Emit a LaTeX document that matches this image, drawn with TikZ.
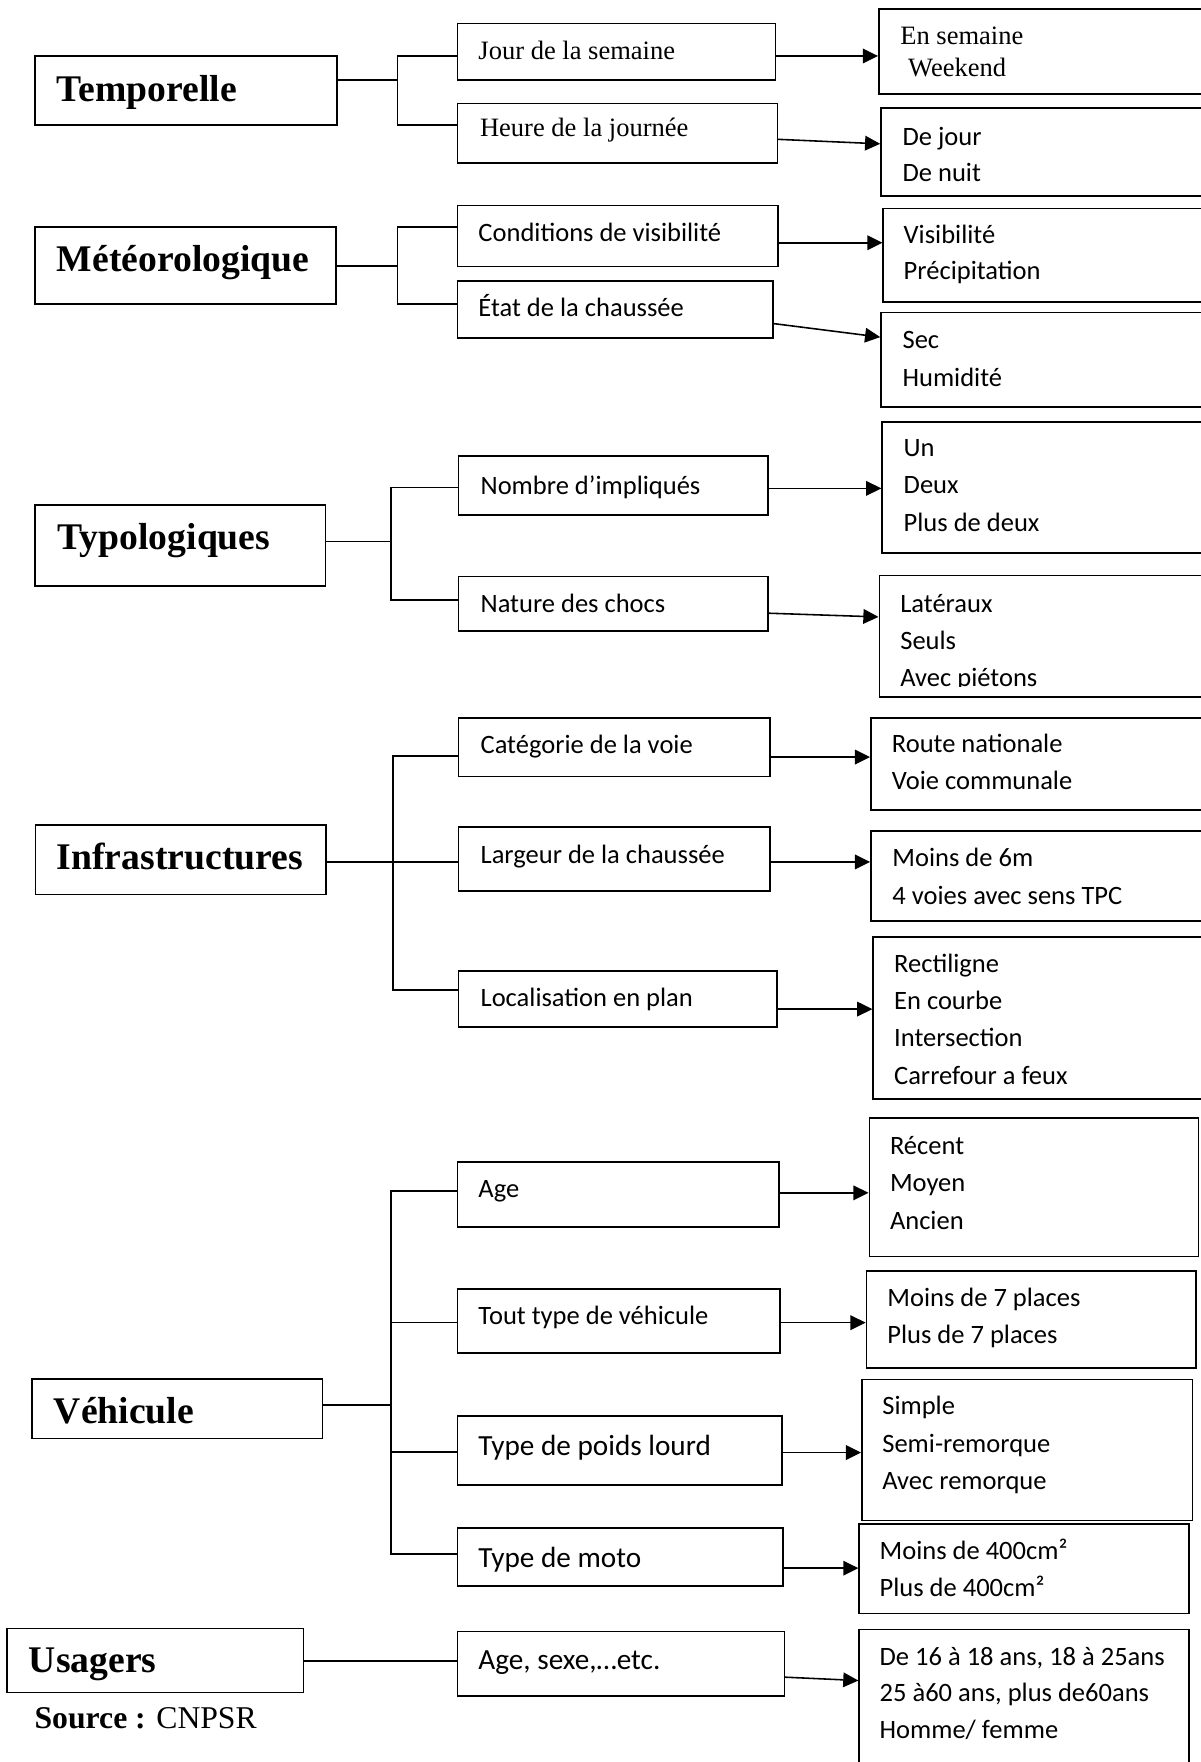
\documentclass[tikz,border=0pt]{standalone}
\usepackage{fontspec}
\setmainfont{Liberation Serif}
\newfontfamily\calfont{Carlito}
\usetikzlibrary{arrows.meta,fit}
\newcommand\catfs{\fontsize{33.5}{36}\selectfont\bfseries}
\newcommand\tmfs{\fontsize{23.6}{28}\selectfont}
\newcommand\cbfs{\calfont\fontsize{23.6}{28}\selectfont}
\newcommand\cbigfs{\calfont\fontsize{26}{30}\selectfont}
\newcommand\srcfs{\fontsize{28.2}{32}\selectfont}
\newcommand\bx[5]{\node[box, fit={(#2,#3) (#4,#5)}] (#1) {};}
\newcommand\arw[4]{\draw[arr] (#1.east |- 0,#2) -- (#3.west |- 0,#4);}
\newcommand\rl[6]{\foreach \itm [count=\i from 0] in {#6} {\node[#5] (#1-\i) at (#2,{#3+#4*\i}) {\itm};}}
\begin{document}
\begin{tikzpicture}[x=1pt,y=-1pt,
  box/.style={draw, line width=1.4pt, inner sep=0pt},
  ln/.style={line width=1.4pt},
  arr/.style={line width=1.4pt, -{Triangle[length=13.5pt,width=13pt]}},
  cat/.style={anchor=base west, inner sep=0pt, font=\catfs},
  tm/.style={anchor=base west, inner sep=0pt, font=\tmfs},
  cb/.style={anchor=base west, inner sep=0pt, font=\cbfs},
  cbig/.style={anchor=base west, inner sep=0pt, font=\cbigfs}]
\useasboundingbox (0,0) rectangle (1068,1568);

% ---------- category boxes ----------
\bx{temp}{31}{50}{300}{111}
\bx{meteo}{31}{202}{299}{270.6}
\bx{typo}{31}{449.6}{289.6}{521.5}
\bx{infra}{31.7}{734}{290}{796}
\bx{vehi}{28.6}{1227}{287}{1280}
\bx{usag}{6.1}{1449}{270}{1506}
\node[cat] (temp-t) at (50.4,90) {Temporelle};
\node[cat] (meteo-t) at (50.4,242) {Météorologique};
\node[cat] (typo-t) at (51,488.6) {Typologiques};
\node[cat] (infra-t) at (50.4,774) {Infrastructures};
\node[cat] (vehi-t) at (47.7,1266.5) {Véhicule};
\node[cat] (usag-t) at (25.5,1488) {Usagers};
\node[anchor=base west, inner sep=0pt, font=\srcfs] (src) at (30.6,1538) {\textbf{Source :} CNPSR};

% ---------- middle boxes ----------
\bx{jour}{407}{20.8}{690}{71}
\bx{heure}{407}{92}{691.7}{145}
\bx{cond}{407}{183}{692.5}{237}
\bx{etat}{407}{250}{688}{300.6}
\bx{nomb}{408}{406}{683.6}{458.4}
\bx{natu}{408}{513}{683.6}{561.6}
\bx{cate}{408}{638.7}{685}{691}
\bx{larg}{408}{736}{685}{793}
\bx{loca}{408}{864}{691.5}{914}
\bx{age}{407}{1034}{693}{1092}
\bx{tout}{407}{1147}{694}{1204}
\bx{poid}{407}{1260}{696}{1321.6}
\bx{moto}{407}{1360}{697}{1411.6}
\bx{asex}{407}{1452}{698}{1509}
\node[tm] (jour-t) at (425.6,52.8) {Jour de la semaine};
\node[tm] (heure-t) at (427,121.6) {Heure de la journée};
\node[cb] (cond-t) at (425.6,215) {Conditions de visibilité};
\node[cb] (etat-t) at (425.6,282) {État de la chaussée};
\node[cb] (nomb-t) at (427.5,439.7) {Nombre d’impliqués};
\node[cb] (natu-t) at (427.5,545.3) {Nature des chocs};
\node[cb] (cate-t) at (427.5,670.5) {Catégorie de la voie};
\node[cb] (larg-t) at (427.5,768) {Largeur de la chaussée};
\node[cb] (loca-t) at (427.5,896) {Localisation en plan};
\node[cb] (age-t) at (425.6,1066) {Age};
\node[cb] (tout-t) at (425.6,1179) {Tout type de véhicule};
\node[cbig] (poid-t) at (425.6,1295) {Type de poids lourd};
\node[cbig] (moto-t) at (425.6,1394.5) {Type de moto};
\node[cbig] (asex-t) at (425.6,1486) {Age, sexe,…etc.};

% ---------- right boxes ----------
\bx{r1}{782}{8}{1080}{83.7}
\bx{r2}{784}{96}{1080}{174.5}
\bx{r3}{786}{185.5}{1080}{268.5}
\bx{r4}{784}{278}{1080}{362}
\bx{r5}{785}{375.5}{1080}{492}
\bx{r6}{782.5}{512}{1080}{620}
\bx{r7}{775}{639}{1080}{721}
\bx{r8}{775}{739.5}{1080}{819.5}
\bx{r9}{777}{834}{1080}{978}
\bx{r10}{773.6}{995}{1066.5}{1118}
\bx{r11}{771}{1131}{1064.5}{1217.5}
\bx{r12}{767}{1227.5}{1061}{1353}
\bx{r13}{764.6}{1356}{1058}{1436}
\bx{r14}{764.6}{1450}{1058}{1585}
\node[tm] (r1-a) at (801,40) {En semaine};
\node[tm] (r1-b) at (808,68) {Weekend};
\rl{r2t}{803}{129.7}{32}{cb}{De jour,De nuit}
\rl{r3t}{804}{216.6}{32.4}{cb}{Visibilité,Précipitation}
\rl{r4t}{803}{310}{33.5}{cb}{Sec,Humidité}
\rl{r5t}{804}{406}{33.5}{cb}{Un,Deux,Plus de deux}
\begin{scope}
\clip (782.5,505) rectangle (1080,611);
\rl{r6t}{801}{545.5}{32.8}{cb}{Latéraux,Seuls,Avec piétons}
\end{scope}
\rl{r7t}{793.5}{670}{33}{cb}{Route nationale,Voie communale}
\rl{r8t}{794}{771.5}{33}{cb}{Moins de 6m,4 voies avec sens TPC}
\rl{r9t}{795.5}{865}{33.3}{cb}{Rectiligne,En courbe,Intersection,Carrefour a feux}
\rl{r10t}{791.8}{1027}{33.5}{cb}{Récent,Moyen,Ancien}
\rl{r11t}{789.5}{1163}{32.5}{cb}{Moins de 7 places,Plus de 7 places}
\rl{r12t}{785}{1258.5}{33.7}{cb}{Simple,Semi-remorque,Avec remorque}
\rl{r13t}{782.6}{1388}{32.5}{cb}{Moins de 400cm²,Plus de 400cm²}
\rl{r14t}{782.6}{1482}{32.5}{cb}{{De 16 à 18 ans, 18 à 25ans},{25 à60 ans, plus de60ans},Homme/ femme}

% ---------- brackets ----------
\coordinate (tv) at (353.6,0);
\draw[ln] (temp.east |- 0,71) -- (tv |- 0,71);
\draw[ln] (jour.west |- 0,50) -- (tv |- 0,50) -- (tv |- 0,111) -- (heure.west |- 0,111);
\coordinate (mv) at (353.6,0);
\draw[ln] (meteo.east |- 0,236.7) -- (mv |- 0,236.7);
\draw[ln] (cond.west |- 0,202) -- (mv |- 0,202) -- (mv |- 0,270.6) -- (etat.west |- 0,270.6);
\coordinate (yv) at (348,0);
\draw[ln] (typo.east |- 0,482) -- (yv |- 0,482);
\draw[ln] (nomb.west |- 0,434) -- (yv |- 0,434) -- (yv |- 0,534) -- (natu.west |- 0,534);
\coordinate (iv) at (349.5,0);
\draw[ln] (infra.east |- 0,767) -- (larg.west |- 0,767);
\draw[ln] (cate.west |- 0,673) -- (iv |- 0,673) -- (iv |- 0,881) -- (loca.west |- 0,881);
\coordinate (vv) at (348,0);
\draw[ln] (vehi.east |- 0,1250.5) -- (vv |- 0,1250.5);
\draw[ln] (age.west |- 0,1060) -- (vv |- 0,1060) -- (vv |- 0,1383) -- (moto.west |- 0,1383);
\draw[ln] (vv |- 0,1177) -- (tout.west |- 0,1177);
\draw[ln] (vv |- 0,1292) -- (poid.west |- 0,1292);
\draw[ln] (usag.east |- 0,1478) -- (asex.west |- 0,1478);

% ---------- arrows ----------
\arw{jour}{49.8}{r1}{49.8}
\arw{heure}{124}{r2}{128}
\arw{cond}{216}{r3}{216}
\arw{etat}{288}{r4}{300}
\arw{nomb}{434.6}{r5}{434.6}
\arw{natu}{545.7}{r6}{549}
\arw{cate}{673.7}{r7}{673.7}
\arw{larg}{767}{r8}{767}
\arw{loca}{898}{r9}{898}
\arw{age}{1061.5}{r10}{1061.5}
\arw{tout}{1177}{r11}{1177}
\arw{poid}{1292.6}{r12}{1292.6}
\arw{moto}{1395.5}{r13}{1395.5}
\arw{asex}{1492.5}{r14}{1495.5}
\end{tikzpicture}
\end{document}
